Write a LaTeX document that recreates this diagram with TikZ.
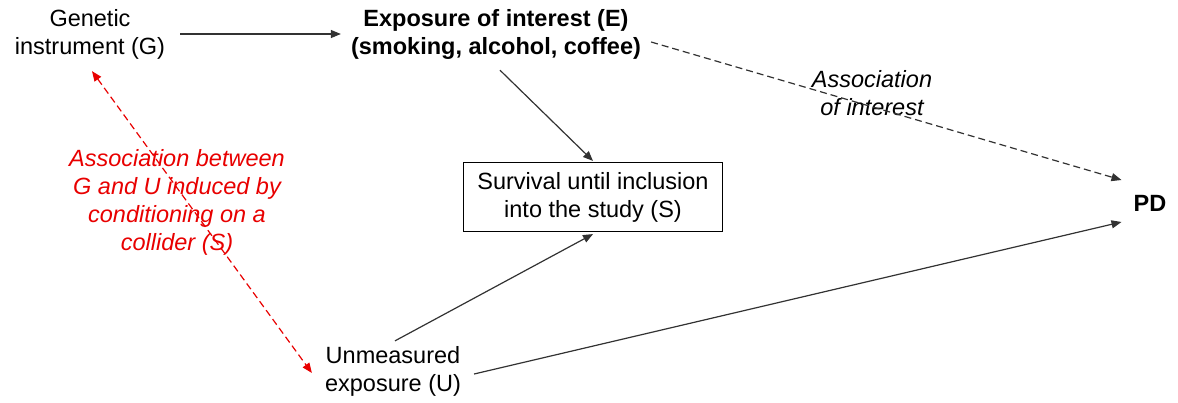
\documentclass[tikz,border=0pt]{standalone}
\usepackage{fontspec}
\setmainfont{Liberation Sans}
\usetikzlibrary{arrows.meta}
\definecolor{redc}{RGB}{232,0,0}
\definecolor{linec}{RGB}{50,50,50}
\tikzset{
  lbl/.style={inner sep=0pt, align=center, font=\fontsize{23.5}{28}\selectfont},
  arr/.style={draw=linec, line width=1.2pt, -{Triangle[length=10pt,width=8pt]}},
  darr/.style={arr, dash pattern=on 7pt off 4pt},
  rarr/.style={draw=redc, line width=1.2pt, dash pattern=on 7pt off 4pt,
    {Triangle[length=10pt,width=8pt]}-{Triangle[length=10pt,width=8pt]}},
  sbox/.style={lbl, draw=black, line width=1.1pt, minimum width=259pt, minimum height=69pt}
}
\begin{document}
\begin{tikzpicture}[x=1pt,y=-1pt]
\useasboundingbox (0,0) rectangle (1178,402);
\node[lbl] (G) at (90,34) {Genetic\\instrument (G)};
\node[lbl, font=\fontsize{23.5}{28}\selectfont\bfseries] (E) at (496,34) {Exposure of interest (E)\\(smoking, alcohol, coffee)};
\node[sbox] (S) at (593,197) {Survival until inclusion\\into the study (S)};
\node[lbl] (U) at (393,371) {Unmeasured\\exposure (U)};
\node[lbl, font=\fontsize{23.5}{28}\selectfont\bfseries] (PD) at (1150,203) {PD};
\node[lbl, font=\fontsize{23.5}{28}\selectfont\itshape] (AI) at (872,93) {Association\\of interest};
\node[lbl, text=redc, font=\fontsize{23.5}{28}\selectfont\itshape] (RL) at (177,202) {Association between\\G and U induced by\\conditioning on a\\collider (S)};

\draw[arr] ([xshift=15pt]G.east) -- ([xshift=-10pt]E.west);
\draw[darr] ([xshift=10pt,yshift=-8pt]E.east) -- ([xshift=-12pt,yshift=23pt]PD.west);
\draw[arr] ([xshift=4pt,yshift=-11pt]E.south) -- ([yshift=1pt]S.north);
\draw[arr] ([xshift=2pt,yshift=5pt]U.north) -- ([yshift=-2pt]S.south);
\draw[arr] ([xshift=13pt,yshift=-3pt]U.east) -- ([xshift=-12pt,yshift=-19pt]PD.west);
\draw[rarr] ([xshift=2pt,yshift=-12pt]G.south) -- ([xshift=-13pt,yshift=-2pt]U.west);
\end{tikzpicture}
\end{document}
